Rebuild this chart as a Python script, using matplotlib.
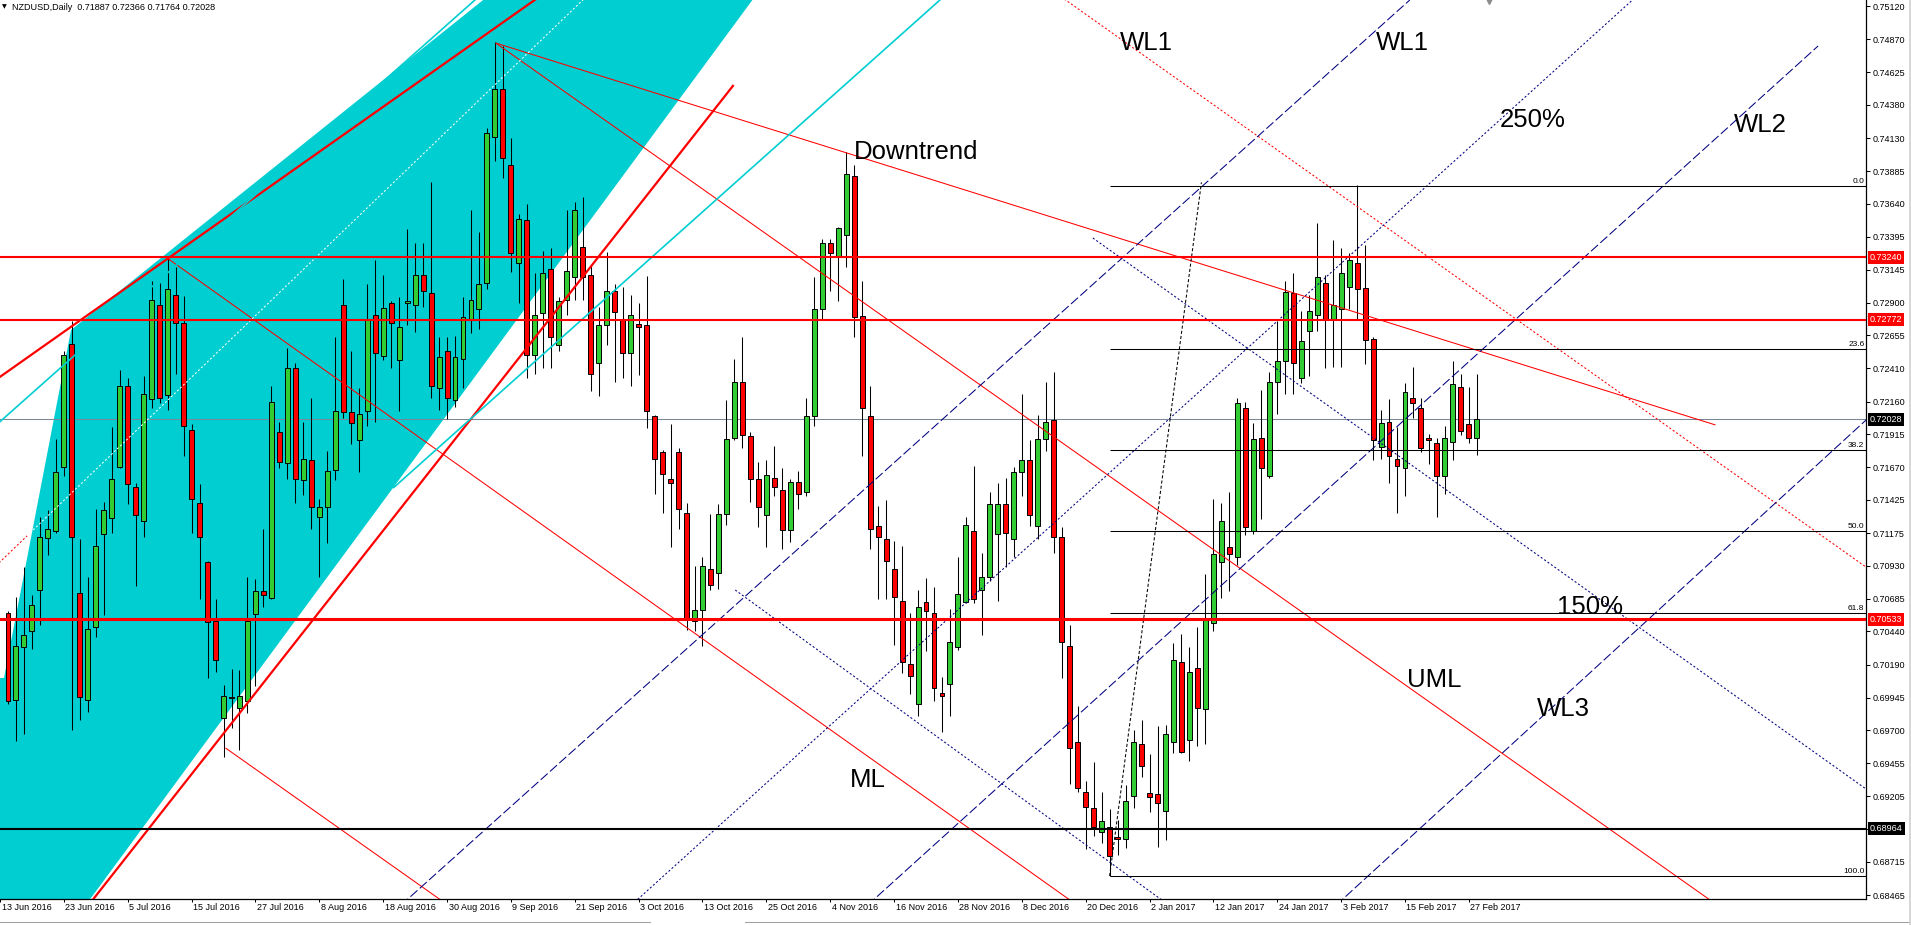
import matplotlib
matplotlib.use("Agg")
import matplotlib.pyplot as plt
import matplotlib.transforms as mtransforms
from matplotlib.lines import Line2D
from matplotlib.patches import Polygon
import numpy as np

plt.rcParams['font.family'] = ['Liberation Sans', 'DejaVu Sans']

# NZDUSD daily candles, 14 Jun 2016 .. 28 Feb 2017
opens = [
    0.7058, 0.6993, 0.7032, 0.7044, 0.7075, 0.7114, 0.7119, 0.7167, 0.7259, 0.7073,
    0.6993, 0.7047, 0.7117, 0.7129, 0.7167, 0.7228, 0.7152, 0.7127, 0.7218, 0.7288,
    0.7221, 0.7296, 0.7275, 0.7195, 0.7140, 0.7096, 0.7052, 0.6979, 0.6995, 0.6987,
    0.6992, 0.7057, 0.7074, 0.7069, 0.7193, 0.7170, 0.7241, 0.7157, 0.7172, 0.7130,
    0.7137, 0.7165, 0.7288, 0.7208, 0.7187, 0.7209, 0.7281, 0.7250, 0.7290, 0.7247,
    0.7290, 0.7288, 0.7311, 0.7297, 0.7226, 0.7254, 0.7217, 0.7248, 0.7278, 0.7285,
    0.7305, 0.7414, 0.7450, 0.7393, 0.7320, 0.7352, 0.7251, 0.7282, 0.7315, 0.7258,
    0.7292, 0.7309, 0.7332, 0.7311, 0.7245, 0.7273, 0.7299, 0.7277, 0.7252, 0.7274,
    0.7273, 0.7205, 0.7178, 0.7158, 0.7178, 0.7133, 0.7052, 0.7060, 0.7091, 0.7088,
    0.7132, 0.7189, 0.7231, 0.7190, 0.7158, 0.7131, 0.7159, 0.7150, 0.7120, 0.7156,
    0.7148, 0.7205, 0.7285, 0.7335, 0.7325, 0.7341, 0.7385, 0.7280, 0.7205, 0.7123,
    0.7113, 0.7091, 0.7067, 0.7020, 0.6990, 0.7066, 0.7058, 0.6998, 0.7005, 0.7032,
    0.7066, 0.7119, 0.7075, 0.7085, 0.7117, 0.7139, 0.7113, 0.7163, 0.7172, 0.7123,
    0.7188, 0.7202, 0.7115, 0.7033, 0.6961, 0.6924, 0.6912, 0.6894, 0.6898, 0.6890,
    0.6889, 0.6921, 0.6960, 0.6923, 0.6922, 0.6910, 0.6961, 0.7021, 0.6963, 0.7017,
    0.6986, 0.7050, 0.7096, 0.7107, 0.7100, 0.7211, 0.7119, 0.7189, 0.7160, 0.7231,
    0.7246, 0.7297, 0.7234, 0.7269, 0.7281, 0.7305, 0.7277, 0.7285, 0.7302, 0.7320,
    0.7301, 0.7263, 0.7182, 0.7201, 0.7173, 0.7166, 0.7219, 0.7211, 0.7189, 0.7185,
    0.7160, 0.7186, 0.7227, 0.7199, 0.71887]
highs = [
    0.7059, 0.7070, 0.7092, 0.7071, 0.7130, 0.7135, 0.7188, 0.7254, 0.7276, 0.7113,
    0.7085, 0.7136, 0.7141, 0.7197, 0.7240, 0.7234, 0.7155, 0.7235, 0.7306, 0.7305,
    0.7324, 0.7317, 0.7295, 0.7199, 0.7154, 0.7097, 0.7068, 0.7004, 0.7016, 0.7015,
    0.7085, 0.7083, 0.7121, 0.7228, 0.7201, 0.7256, 0.7245, 0.7201, 0.7219, 0.7143,
    0.7179, 0.7264, 0.7308, 0.7254, 0.7226, 0.7304, 0.7322, 0.7311, 0.7291, 0.7294,
    0.7345, 0.7335, 0.7335, 0.7380, 0.7264, 0.7264, 0.7265, 0.7294, 0.7359, 0.7343,
    0.7421, 0.7485, 0.7482, 0.7413, 0.7356, 0.7364, 0.7312, 0.7329, 0.7331, 0.7294,
    0.7359, 0.7365, 0.7369, 0.7318, 0.7287, 0.7328, 0.7304, 0.7302, 0.7296, 0.7290,
    0.7310, 0.7206, 0.7180, 0.7199, 0.7181, 0.7140, 0.7093, 0.7100, 0.7132, 0.7139,
    0.7217, 0.7248, 0.7264, 0.7193, 0.7171, 0.7172, 0.7183, 0.7166, 0.7158, 0.7164,
    0.7219, 0.7309, 0.7338, 0.7338, 0.7347, 0.7403, 0.7393, 0.7306, 0.7228, 0.7138,
    0.7142, 0.7112, 0.7108, 0.7058, 0.7075, 0.7084, 0.7077, 0.7010, 0.7061, 0.7100,
    0.7130, 0.7168, 0.7103, 0.7148, 0.7155, 0.7159, 0.7167, 0.7222, 0.7187, 0.7206,
    0.7231, 0.7238, 0.7122, 0.7049, 0.6988, 0.6932, 0.6946, 0.6924, 0.6911, 0.6903,
    0.6929, 0.6970, 0.6978, 0.6952, 0.6973, 0.6974, 0.7035, 0.7042, 0.7032, 0.7047,
    0.7087, 0.7143, 0.7140, 0.7148, 0.7219, 0.7216, 0.7200, 0.7225, 0.7238, 0.7276,
    0.7306, 0.7312, 0.7284, 0.7296, 0.7350, 0.7311, 0.7337, 0.7331, 0.7327, 0.7378,
    0.7333, 0.7264, 0.7210, 0.7218, 0.7197, 0.7230, 0.7242, 0.7219, 0.7192, 0.7189,
    0.7198, 0.7246, 0.7237, 0.7227, 0.72366]
lows = [
    0.6990, 0.6962, 0.6967, 0.7031, 0.7049, 0.7101, 0.7118, 0.7160, 0.6970, 0.6978,
    0.6984, 0.7040, 0.7056, 0.7118, 0.7166, 0.7139, 0.7078, 0.7115, 0.7211, 0.7215,
    0.7210, 0.7237, 0.7175, 0.7118, 0.7068, 0.7009, 0.7014, 0.6950, 0.6972, 0.6955,
    0.6983, 0.7003, 0.7062, 0.7068, 0.7166, 0.7158, 0.7140, 0.7146, 0.7121, 0.7085,
    0.7110, 0.7157, 0.7204, 0.7184, 0.7163, 0.7198, 0.7201, 0.7247, 0.7241, 0.7209,
    0.7273, 0.7268, 0.7287, 0.7219, 0.7210, 0.7203, 0.7212, 0.7226, 0.7267, 0.7270,
    0.7300, 0.7396, 0.7383, 0.7313, 0.7290, 0.7234, 0.7237, 0.7241, 0.7241, 0.7254,
    0.7281, 0.7292, 0.7292, 0.7224, 0.7220, 0.7258, 0.7231, 0.7234, 0.7228, 0.7236,
    0.7196, 0.7147, 0.7133, 0.7107, 0.7121, 0.7045, 0.7044, 0.7033, 0.7075, 0.7076,
    0.7124, 0.7187, 0.7181, 0.7141, 0.7122, 0.7107, 0.7145, 0.7106, 0.7111, 0.7136,
    0.7145, 0.7198, 0.7277, 0.7299, 0.7291, 0.7317, 0.7264, 0.7175, 0.7106, 0.7068,
    0.7068, 0.7034, 0.7013, 0.6997, 0.6981, 0.7029, 0.6992, 0.6969, 0.6981, 0.7030,
    0.7065, 0.7065, 0.7041, 0.7082, 0.7067, 0.7092, 0.7100, 0.7145, 0.7123, 0.7113,
    0.7179, 0.7103, 0.7009, 0.6930, 0.6924, 0.6881, 0.6891, 0.6886, 0.6861, 0.6877,
    0.6882, 0.6912, 0.6935, 0.6909, 0.6883, 0.6888, 0.6953, 0.6953, 0.6947, 0.6958,
    0.6960, 0.7044, 0.7069, 0.7074, 0.7094, 0.7116, 0.7117, 0.7128, 0.7159, 0.7207,
    0.7222, 0.7222, 0.7230, 0.7235, 0.7269, 0.7241, 0.7242, 0.7242, 0.7285, 0.7278,
    0.7244, 0.7172, 0.7173, 0.7155, 0.7133, 0.7145, 0.7204, 0.7178, 0.7169, 0.7130,
    0.7147, 0.7172, 0.7191, 0.7185, 0.71764]
closes = [
    0.6992, 0.7033, 0.7041, 0.7064, 0.7115, 0.7121, 0.7163, 0.7251, 0.7115, 0.6995,
    0.7046, 0.7108, 0.7135, 0.7158, 0.7228, 0.7154, 0.7131, 0.7222, 0.7292, 0.7219,
    0.7300, 0.7275, 0.7198, 0.7143, 0.7115, 0.7051, 0.7023, 0.6996, 0.6994, 0.6996,
    0.7052, 0.7074, 0.7071, 0.7216, 0.7171, 0.7241, 0.7158, 0.7173, 0.7137, 0.7137,
    0.7164, 0.7209, 0.7208, 0.7200, 0.7207, 0.7278, 0.7252, 0.7286, 0.7275, 0.7272,
    0.7291, 0.7311, 0.7299, 0.7228, 0.7249, 0.7219, 0.7249, 0.7279, 0.7292, 0.7304,
    0.7417, 0.7450, 0.7398, 0.7327, 0.7353, 0.7251, 0.7281, 0.7312, 0.7264, 0.7291,
    0.7314, 0.7359, 0.7309, 0.7237, 0.7273, 0.7299, 0.7283, 0.7252, 0.7281, 0.7272,
    0.7209, 0.7173, 0.7162, 0.7155, 0.7136, 0.7054, 0.7060, 0.7093, 0.7079, 0.7132,
    0.7188, 0.7231, 0.7191, 0.7158, 0.7137, 0.7161, 0.7152, 0.7120, 0.7156, 0.7147,
    0.7205, 0.7285, 0.7335, 0.7327, 0.7346, 0.7386, 0.7279, 0.7211, 0.7121, 0.7115,
    0.7097, 0.7070, 0.7021, 0.7011, 0.7062, 0.7059, 0.7002, 0.6996, 0.7036, 0.7072,
    0.7124, 0.7068, 0.7085, 0.7139, 0.7139, 0.7118, 0.7163, 0.7172, 0.7131, 0.7188,
    0.7201, 0.7115, 0.7036, 0.6957, 0.6927, 0.6913, 0.6898, 0.6902, 0.6876, 0.6889,
    0.6917, 0.6961, 0.6943, 0.6920, 0.6916, 0.6967, 0.7023, 0.6954, 0.7014, 0.6987,
    0.7054, 0.7102, 0.7127, 0.7102, 0.7215, 0.7122, 0.7188, 0.7166, 0.7231, 0.7246,
    0.7298, 0.7245, 0.7261, 0.7284, 0.7309, 0.7278, 0.7288, 0.7312, 0.7322, 0.7300,
    0.7262, 0.7187, 0.7200, 0.7175, 0.7168, 0.7223, 0.7215, 0.7181, 0.7187, 0.7160,
    0.7189, 0.7229, 0.7194, 0.7189, 0.72028]

date_labels = ['13 Jun 2016', '23 Jun 2016', '5 Jul 2016', '15 Jul 2016', '27 Jul 2016',
               '8 Aug 2016', '18 Aug 2016', '30 Aug 2016', '9 Sep 2016', '21 Sep 2016',
               '3 Oct 2016', '13 Oct 2016', '25 Oct 2016', '4 Nov 2016', '16 Nov 2016',
               '28 Nov 2016', '8 Dec 2016', '20 Dec 2016', '2 Jan 2017', '12 Jan 2017',
               '24 Jan 2017', '3 Feb 2017', '15 Feb 2017', '27 Feb 2017']
label_bars = list(range(-1, 184, 8))

price_ticks = [0.75120, 0.74870, 0.74625, 0.74380, 0.74130, 0.73885, 0.73640, 0.73395,
               0.73145, 0.72900, 0.72655, 0.72410, 0.72160, 0.71915, 0.71670, 0.71425,
               0.71175, 0.70930, 0.70685, 0.70440, 0.70190, 0.69945, 0.69700, 0.69455,
               0.69205, 0.68960, 0.68715, 0.68465]

red_levels = [0.73240, 0.72772, 0.70533]
black_level = 0.68964
bid = 0.72028
marked = [(0.73240, '#FF0000'), (0.72772, '#FF0000'), (0.72028, 'black'),
          (0.70533, '#FF0000'), (0.68964, 'black')]

fib_start = 138
fib_low, fib_high = 0.6861, 0.7377
fib_ratios = [0.0, 23.6, 38.2, 50.0, 61.8, 100.0]

# drawn objects, anchors as (bar, price, bar, price)
red_thick = [(-2, 0.72303, 68, 0.75250), (9.5, 0.68347, 90.9, 0.74529)]
red_thin = [(61.1, 0.74843, 213.9, 0.71985),   # downtrend
            (61.1, 0.74843, 214.1, 0.68393),   # UML
            (19.75, 0.73242, 133.9, 0.68393),  # ML
            (27.25, 0.69568, 55.1, 0.68393)]
red_dotted = [(131, 0.75228, 234, 0.70869), (-2, 0.70903, 2.4, 0.71156)]
white_dotted = [(2.4, 0.71156, 73.5, 0.75251)]
cyan_lines = [(-2, 0.71957, 60, 0.75245), (48.25, 0.71513, 118, 0.75232)]
cyan_area = [(-2, 0.6830), (-2, 0.70092), (-0.5, 0.70092), (7.9, 0.72696),
             (61.3, 0.7525), (94.3, 0.7525), (8.6, 0.6830)]
navy_dash = [(49.25, 0.68393, 175.6, 0.75165), (107.7, 0.68393, 226.75, 0.74821),
             (166.4, 0.68393, 234, 0.72090)]
navy_dot = [(78.1, 0.68393, 203.5, 0.75165), (135.9, 0.73384, 234, 0.69208),
            (91.1, 0.70750, 145.4, 0.68393)]
fib_diag = (138, 0.6861, 149.5, 0.7380)

notes = [('Downtrend', 106, 0.73975), ('ML', 105.5, 0.69276), ('UML', 175.25, 0.70024),
         ('WL3', 191.5, 0.69807), ('150%', 194, 0.70570), ('WL1', 139.25, 0.74791),
         ('WL1', 171.4, 0.74791), ('250%', 186.9, 0.74215), ('WL2', 216.25, 0.74177)]

W, H = 1911, 925
fig = plt.figure(figsize=(W / 100, H / 100), dpi=100, facecolor='white')
ax = fig.add_axes([0, 26 / H, 1866 / W, 899 / H])
ax.set_xlim(-0.5, 232.75)
ax.set_ylim(0.68438, 0.75165)
ax.set_facecolor('white')
for side in ('left', 'top'):
    ax.spines[side].set_visible(False)
for side in ('right', 'bottom'):
    ax.spines[side].set_linewidth(0.9)
    ax.spines[side].set_color('black')

ax.add_patch(Polygon(cyan_area, closed=True, facecolor='#00CED1', edgecolor='none', zorder=1))

# candles
o, h, l, c = map(np.array, (opens, highs, lows, closes))
x = np.arange(len(o))
up = c >= o
ax.vlines(x, l, h, colors='black', linewidth=0.75, zorder=3)
ax.bar(x, np.maximum(np.abs(c - o), 0.00002), bottom=np.minimum(o, c), width=0.62,
       color=np.where(up, '#32CD32', '#FF0000'), edgecolor='black', linewidth=0.7, zorder=4)


def seg(p, **kw):
    ax.plot([p[0], p[2]], [p[1], p[3]], solid_capstyle='butt', **kw)


for p in red_thick:
    seg(p, color='#FF0000', lw=1.6, zorder=5)
for p in red_thin:
    seg(p, color='#FF0000', lw=0.75, zorder=5)
for p in red_dotted:
    seg(p, color='#FF0000', lw=0.75, ls=(0, (2, 2)), zorder=5)
for p in white_dotted:
    seg(p, color='white', lw=0.75, ls=(0, (2, 2)), zorder=5)
for p in cyan_lines:
    seg(p, color='#00CED1', lw=1.2, zorder=5)
for p in navy_dash:
    seg(p, color='#000080', lw=0.75, ls=(0, (9, 3)), zorder=5)
for p in navy_dot:
    seg(p, color='#000080', lw=0.75, ls=(0, (2, 2)), zorder=5)
seg(fib_diag, color='black', lw=0.75, ls=(0, (3, 2)), zorder=5)

for lv in red_levels:
    ax.axhline(lv, color='#FF0000', lw=2.2 if lv == 0.70533 else 1.5, zorder=5)
ax.axhline(black_level, color='black', lw=1.5, zorder=5)
ax.axhline(bid, color='#778899', lw=0.75, zorder=2)

# fibonacci retracement
for r in fib_ratios:
    lvl = fib_high - r / 100 * (fib_high - fib_low)
    ax.hlines(lvl, fib_start, 232.75, color='black', lw=0.75, zorder=5)
    ax.text(232.55, lvl + 0.00008, f'{r:.1f}', ha='right', va='bottom', fontsize=6, zorder=6)

for txt, bx, py in notes:
    ax.text(bx, py, txt, ha='left', va='baseline', fontsize=18.5, color='black', zorder=6)

# price axis
ax.yaxis.tick_right()
ax.set_yticks(price_ticks)
ax.set_yticklabels([f'{v:.5f}' for v in price_ticks])
ax.tick_params(axis='y', direction='out', length=3, width=0.75, pad=2, labelsize=6.5)
btrans = mtransforms.offset_copy(
    mtransforms.blended_transform_factory(ax.transAxes, ax.transData), fig=fig, x=4, y=0, units='dots')
for val, col in marked:
    ax.text(1.0, val, f'{val:.5f}', transform=btrans, ha='left', va='center', fontsize=6.5,
            color='white', clip_on=False, zorder=10,
            bbox=dict(boxstyle='square,pad=0.22', fc=col, ec='none'))

# time axis
ax.set_xticks(label_bars)
ax.set_xticklabels([])
ax.tick_params(axis='x', direction='out', length=2.5, width=0.75)
dtrans = mtransforms.offset_copy(ax.get_xaxis_transform(), fig=fig, x=1.5, y=-9, units='dots')
for bx, lab in zip(label_bars, date_labels):
    ax.text(bx, 0, lab, transform=dtrans, ha='left', va='center', fontsize=6.5, clip_on=False)

# chart header and chart shift marker
fig.text(1.5 / W, 1 - 7 / H, '\u25BC', family='DejaVu Sans', fontsize=4.5, va='center')
fig.text(12 / W, 1 - 7 / H, 'NZDUSD,Daily  0.71887 0.72366 0.71764 0.72028', fontsize=6.5,
         va='center')
ax.plot([185.5], [0.75165], marker='v', color='#8c8c8c', ms=6, clip_on=False, zorder=7)

# window frame
fig.add_artist(Line2D([0, 650 / W], [3 / H, 3 / H], color='#a0a0a0', lw=0.75))
fig.add_artist(Line2D([745 / W, 1], [3 / H, 3 / H], color='#a0a0a0', lw=0.75))
fig.add_artist(Line2D([1909.5 / W, 1909.5 / W], [0, 1], color='#d0d0d0', lw=1.2))

fig.savefig('out.png', dpi=100, facecolor='white')
